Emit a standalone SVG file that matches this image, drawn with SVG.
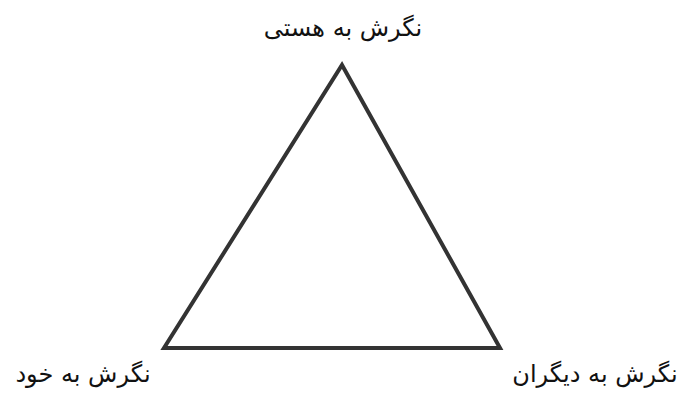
<svg xmlns="http://www.w3.org/2000/svg" width="679" height="393" viewBox="0 0 679 393">
<style>
.lbl{font-family:"DejaVu Sans","Noto Sans",sans-serif;font-size:24px;fill:#111;direction:rtl}
.edge{fill:none;stroke:#333;stroke-width:4;stroke-linejoin:miter}
</style>
<rect width="679" height="393" fill="#fff"/>
<g id="connectors">
<polygon class="edge" points="342,65 500,348 164,348"/>
</g>
<g id="node-top"><text class="lbl" x="343" y="36" text-anchor="middle">نگرش به هستی</text></g>
<g id="node-left"><text class="lbl" x="83" y="382" text-anchor="middle">نگرش به خود</text></g>
<g id="node-right"><text class="lbl" x="595" y="382" text-anchor="middle">نگرش به دیگران</text></g>
</svg>
